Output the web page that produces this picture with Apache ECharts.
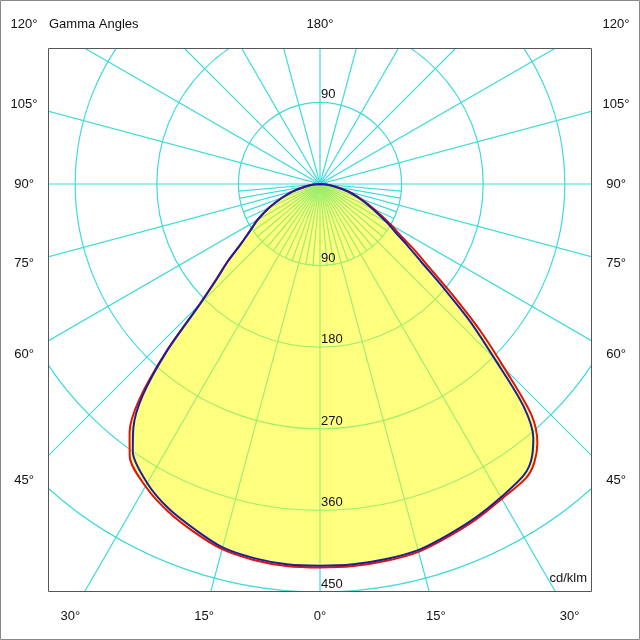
<!DOCTYPE html>
<html><head><meta charset="utf-8">
<script src="https://cdn.jsdelivr.net/npm/echarts@6/dist/echarts.min.js"></script>
<style>html,body{margin:0;padding:0;background:#fff}#c{width:640px;height:640px}</style>
</head><body><div id="c"></div>
<script>
// Gamma angles (deg, 0 = straight down) and intensities in cd/klm
const gammas    = [0,  5,  10, 15, 20, 25, 30, 35, 37.5, 40, 42.5, 45, 47.5, 50, 52.5, 55, 57.5, 60, 65, 70, 75, 80, 85, 90];
const redC0     = [423,423,422,420,414,408,401,396,388, 373,345, 288,240, 192,153, 128,105, 91, 66, 48, 33, 18, 8, 0];  // right half, red
const redC180   = [423,423,421,417,408,398,385,366,345, 310,252, 188,154, 133,112, 98, 88,  80, 62, 45, 31, 17, 7, 0];  // left half, red
const blueC90   = [421,421,420,418,412,406,399,392,383, 366,332, 272,225, 177,140, 117,98,  86, 63, 46, 32, 17, 7, 0];  // right half, blue
const blueC270  = [421,421,419,415,405,395,381,360,338, 304,250, 187,154, 133,112, 98, 88,  80, 62, 45, 31, 17, 7, 0];  // left half, blue

const rings = [90, 180, 270, 360, 450];
const ringLabels = ['90', '180', '270', '360', '450'];
const diameterAngles = [0, 15, 30, 45, 60, 75, 90, 105, 120, 135, 150, 165];
const fineSpokeAngles = [5, 10, 20, 25, 35, 40, 50, 55, 65, 70, 80, 85];
const angleLabelValues = [0, 15, 30, 45, 60, 75, 90, 105, 120, 180];

const GRID = '#3FDADA';
const FONT = '13px "Liberation Sans", Arial, sans-serif';
const rad = d => d * Math.PI / 180;

function planePoints(leftVals, rightVals) {
  const pts = [];
  for (let i = gammas.length - 1; i >= 1; i--) {
    const g = rad(gammas[i]);
    pts.push([-leftVals[i] * Math.sin(g), -leftVals[i] * Math.cos(g)]);
  }
  for (let i = 0; i < gammas.length; i++) {
    const g = rad(gammas[i]);
    pts.push([rightVals[i] * Math.sin(g), -rightVals[i] * Math.cos(g)]);
  }
  return pts;
}
const redPts = planePoints(redC180, redC0);
const bluePts = planePoints(blueC270, blueC90);
const envPts = planePoints(redC180.map((v, i) => Math.max(v, blueC270[i])), redC0.map((v, i) => Math.max(v, blueC90[i])));

// spoke items: [gamma, side, innerLength, outerLength]
const spokeData = [];
diameterAngles.forEach(a => spokeData.push([a, 1, -2000, 2000]));
fineSpokeAngles.forEach(a => { spokeData.push([a, -1, 0, rings[0]]); spokeData.push([a, 1, 0, rings[0]]); });

const chart = echarts.init(document.getElementById('c'), null, {renderer: 'canvas', width: 640, height: 640});

const lineStyle = {stroke: GRID, lineWidth: 1.2, fill: null};
chart.setOption({
  animation: false,
  backgroundColor: '#fff',
  grid: {left: 48, top: 48, width: 544, height: 544, show: false},
  xAxis: {type: 'value', min: -300, max: 300, show: false},
  yAxis: {type: 'value', min: -450, max: 150, show: false},
  series: [
    {
      type: 'custom', clip: true, z: 1, silent: true,
      data: rings.map(r => [r]),
      renderItem(params, api) {
        const c = api.coord([0, 0]);
        const r = api.size([api.value(0), 0])[0];
        return {type: 'circle', shape: {cx: c[0], cy: c[1], r: r}, style: {fill: 'none', stroke: GRID, lineWidth: 1.2}};
      }
    },
    {
      type: 'custom', clip: true, z: 1, silent: true,
      data: spokeData,
      renderItem(params, api) {
        const a = rad(api.value(0)), s = api.value(1), L0 = api.value(2), L1 = api.value(3);
        const p0 = api.coord([s * L0 * Math.sin(a), -L0 * Math.cos(a)]);
        const p1 = api.coord([s * L1 * Math.sin(a), -L1 * Math.cos(a)]);
        return {type: 'line', shape: {x1: p0[0], y1: p0[1], x2: p1[0], y2: p1[1]}, style: Object.assign({}, lineStyle)};
      }
    },
    {
      type: 'custom', clip: true, z: 2, silent: true,
      data: [[0]],
      renderItem(params, api) {
        const pts = envPts.map(p => api.coord(p));
        return {type: 'polygon', shape: {points: pts, smooth: 0.3}, style: {fill: 'rgba(255,255,0,0.5)', stroke: 'none'}};
      }
    },
    {
      type: 'line', z: 3, data: redPts, symbol: 'none', smooth: 0.3, silent: true,
      lineStyle: {color: '#DC1414', width: 2}
    },
    {
      type: 'line', z: 4, data: bluePts, symbol: 'none', smooth: 0.3, silent: true,
      lineStyle: {color: '#1E1E9C', width: 2}
    }
  ]
});

// Text labels
const c = chart.convertToPixel({gridIndex: 0}, [0, 0]);
const texts = [];
function txt(s, x, y, align) {
  texts.push({type: 'text', z: 100, silent: true,
    style: {text: s, x: x, y: y, font: FONT, fill: '#111', align: align || 'center', textAlign: align || 'center', verticalAlign: 'middle', textVerticalAlign: 'middle'}});
}
const SIDE = 296, TOP = 24.5, BOTTOM = 616.5;
angleLabelValues.forEach(g => {
  const sides = (g === 0 || g === 180) ? [1] : [-1, 1];
  sides.forEach(s => {
    let x, y;
    const sn = Math.sin(rad(g)), cs = Math.cos(rad(g));
    if (sn < 1e-9) { x = c[0]; y = cs > 0 ? BOTTOM : TOP; }
    else {
      const t = SIDE / sn;
      x = c[0] + s * SIDE; y = c[1] + t * cs;
      if (y > BOTTOM) { const t2 = (BOTTOM - c[1]) / cs; x = c[0] + s * t2 * sn; y = BOTTOM; }
      if (y < TOP) y = TOP;
    }
    txt(g + '°', x, y, 'center');
  });
});
txt('Gamma Angles', 49, TOP, 'left');
txt('cd/klm', 587, 578, 'right');
const r0 = chart.convertToPixel({gridIndex: 0}, [0, -rings[0]])[1] - c[1];
txt(ringLabels[0], 321, c[1] - r0 - 7.5, 'left');
rings.forEach((r, i) => {
  const y = chart.convertToPixel({gridIndex: 0}, [0, -r])[1];
  txt(ringLabels[i], 321, y - 7.5, 'left');
});
texts.push({type: 'rect', z: 90, silent: true, shape: {x: 48.5, y: 48.5, width: 543, height: 543}, style: {fill: 'none', stroke: '#555', lineWidth: 1}});
texts.push({type: 'rect', z: 90, silent: true, shape: {x: 0.5, y: 0.5, width: 639, height: 639}, style: {fill: 'none', stroke: '#888', lineWidth: 1}});
chart.setOption({graphic: {elements: texts}});
</script>
</body></html>
